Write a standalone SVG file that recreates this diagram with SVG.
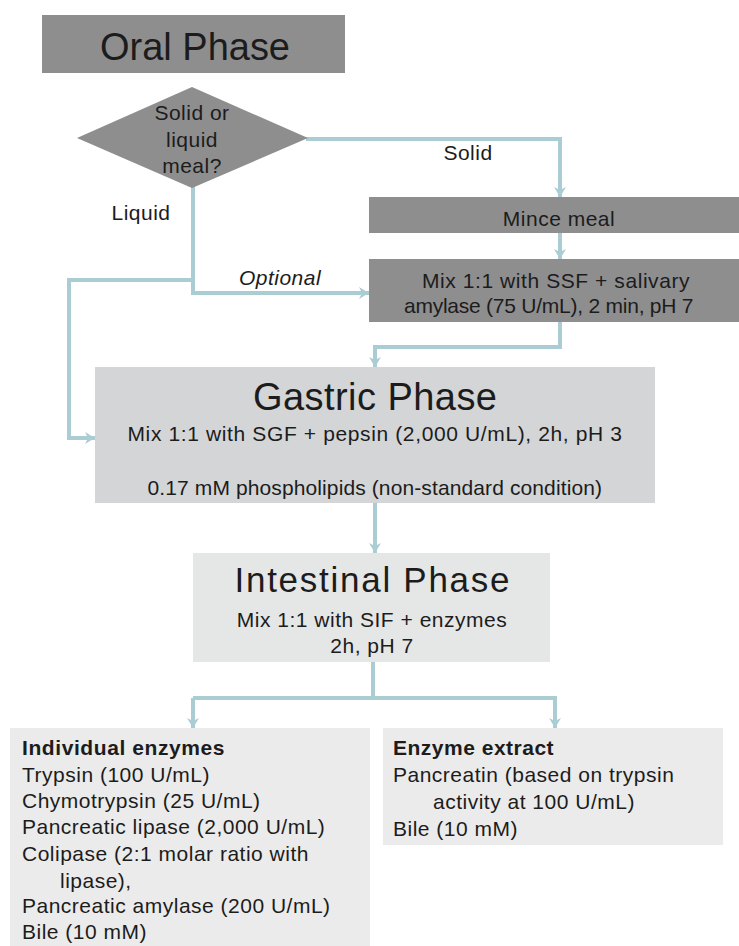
<svg xmlns="http://www.w3.org/2000/svg" width="739" height="946" viewBox="0 0 739 946">
<style>
.t{font-family:"Liberation Sans",Arial,sans-serif;fill:#1c1c1c}
.h{font-size:38px}
.s{font-size:21px;letter-spacing:0.5px}
.b{font-weight:bold}
.c{text-anchor:middle}
.dark{fill:#8e8e8f}
.conn{fill:none;stroke:#a9cdd3;stroke-width:4;stroke-linejoin:miter}
</style>
<defs>
<marker id="ah" markerUnits="userSpaceOnUse" markerWidth="14" markerHeight="14" viewBox="0 0 14 14" refX="12" refY="7" orient="auto">
<path d="M2,1 L12,7 L2,13 L5,7 Z" fill="#a9cdd3"/>
</marker>
</defs>
<rect width="739" height="946" fill="#ffffff"/>

<g id="connectors">
<polyline class="conn" points="306,139 560,139 560,197" marker-end="url(#ah)"/>
<polyline class="conn" points="560,233 560,259" marker-end="url(#ah)"/>
<polyline class="conn" points="193,186 193,293 369,293" marker-end="url(#ah)"/>
<polyline class="conn" points="193,280 69,280 69,438 95,438" marker-end="url(#ah)"/>
<polyline class="conn" points="560,322 560,347 375,347 375,367" marker-end="url(#ah)"/>
<polyline class="conn" points="375,503 375,553" marker-end="url(#ah)"/>
<polyline class="conn" points="373,662 373,698"/>
<polyline class="conn" points="193,698 555,698 555,728" marker-end="url(#ah)"/>
<polyline class="conn" points="193,698 193,728" marker-end="url(#ah)"/>
<text class="t s c" x="141" y="220">Liquid</text>
<text class="t s c" x="468" y="160">Solid</text>
<text class="t s c" x="280" y="285" font-style="italic">Optional</text>
</g>

<g id="oral">
<rect class="dark" x="42" y="15" width="303" height="58"/>
<text class="t h c" x="195" y="60" textLength="190">Oral Phase</text>
</g>

<g id="decision">
<polygon class="dark" points="77,138 192,87 308,138 192,188"/>
<text class="t s c" x="192" y="120">Solid or</text>
<text class="t s c" x="192" y="147">liquid</text>
<text class="t s c" x="192" y="173">meal?</text>
</g>

<g id="mince">
<rect class="dark" x="369" y="197" width="370" height="36"/>
<text class="t s c" x="559" y="226">Mince meal</text>
</g>

<g id="mix">
<rect class="dark" x="369" y="259" width="370" height="63"/>
<text class="t s c" x="556" y="288" textLength="268">Mix 1:1 with SSF + salivary</text>
<text class="t s c" x="549" y="313" textLength="290">amylase (75 U/mL), 2 min, pH 7</text>
</g>

<g id="gastric">
<rect x="95" y="367" width="560" height="136" fill="#d3d5d7"/>
<text class="t h c" x="375" y="410" textLength="244">Gastric Phase</text>
<text class="t s c" x="375" y="441" textLength="495">Mix 1:1 with SGF + pepsin (2,000 U/mL), 2h, pH 3</text>
<text class="t s c" x="375" y="495" textLength="455">0.17 mM phospholipids (non-standard condition)</text>
</g>

<g id="intestinal">
<rect x="193" y="553" width="357" height="109" fill="#e5e6e6"/>
<text class="t c" font-size="35" x="372" y="592" textLength="275">Intestinal Phase</text>
<text class="t s c" x="372" y="627">Mix 1:1 with SIF + enzymes</text>
<text class="t s c" x="372" y="653">2h, pH 7</text>
</g>

<g id="individual">
<rect x="10" y="728" width="360" height="218" fill="#ebebeb"/>
<text class="t s b" x="22" y="755" textLength="203">Individual enzymes</text>
<text class="t s" x="22" y="782">Trypsin (100 U/mL)</text>
<text class="t s" x="22" y="808">Chymotrypsin (25 U/mL)</text>
<text class="t s" x="22" y="834">Pancreatic lipase (2,000 U/mL)</text>
<text class="t s" x="22" y="861">Colipase (2:1 molar ratio with</text>
<text class="t s" x="60" y="888">lipase),</text>
<text class="t s" x="22" y="913">Pancreatic amylase (200 U/mL)</text>
<text class="t s" x="22" y="939">Bile (10 mM)</text>
</g>

<g id="extract">
<rect x="383" y="728" width="340" height="117" fill="#ebebeb"/>
<text class="t s b" x="393" y="755">Enzyme extract</text>
<text class="t s" x="393" y="782">Pancreatin (based on trypsin</text>
<text class="t s" x="433" y="809">activity at 100 U/mL)</text>
<text class="t s" x="393" y="836">Bile (10 mM)</text>
</g>
</svg>
